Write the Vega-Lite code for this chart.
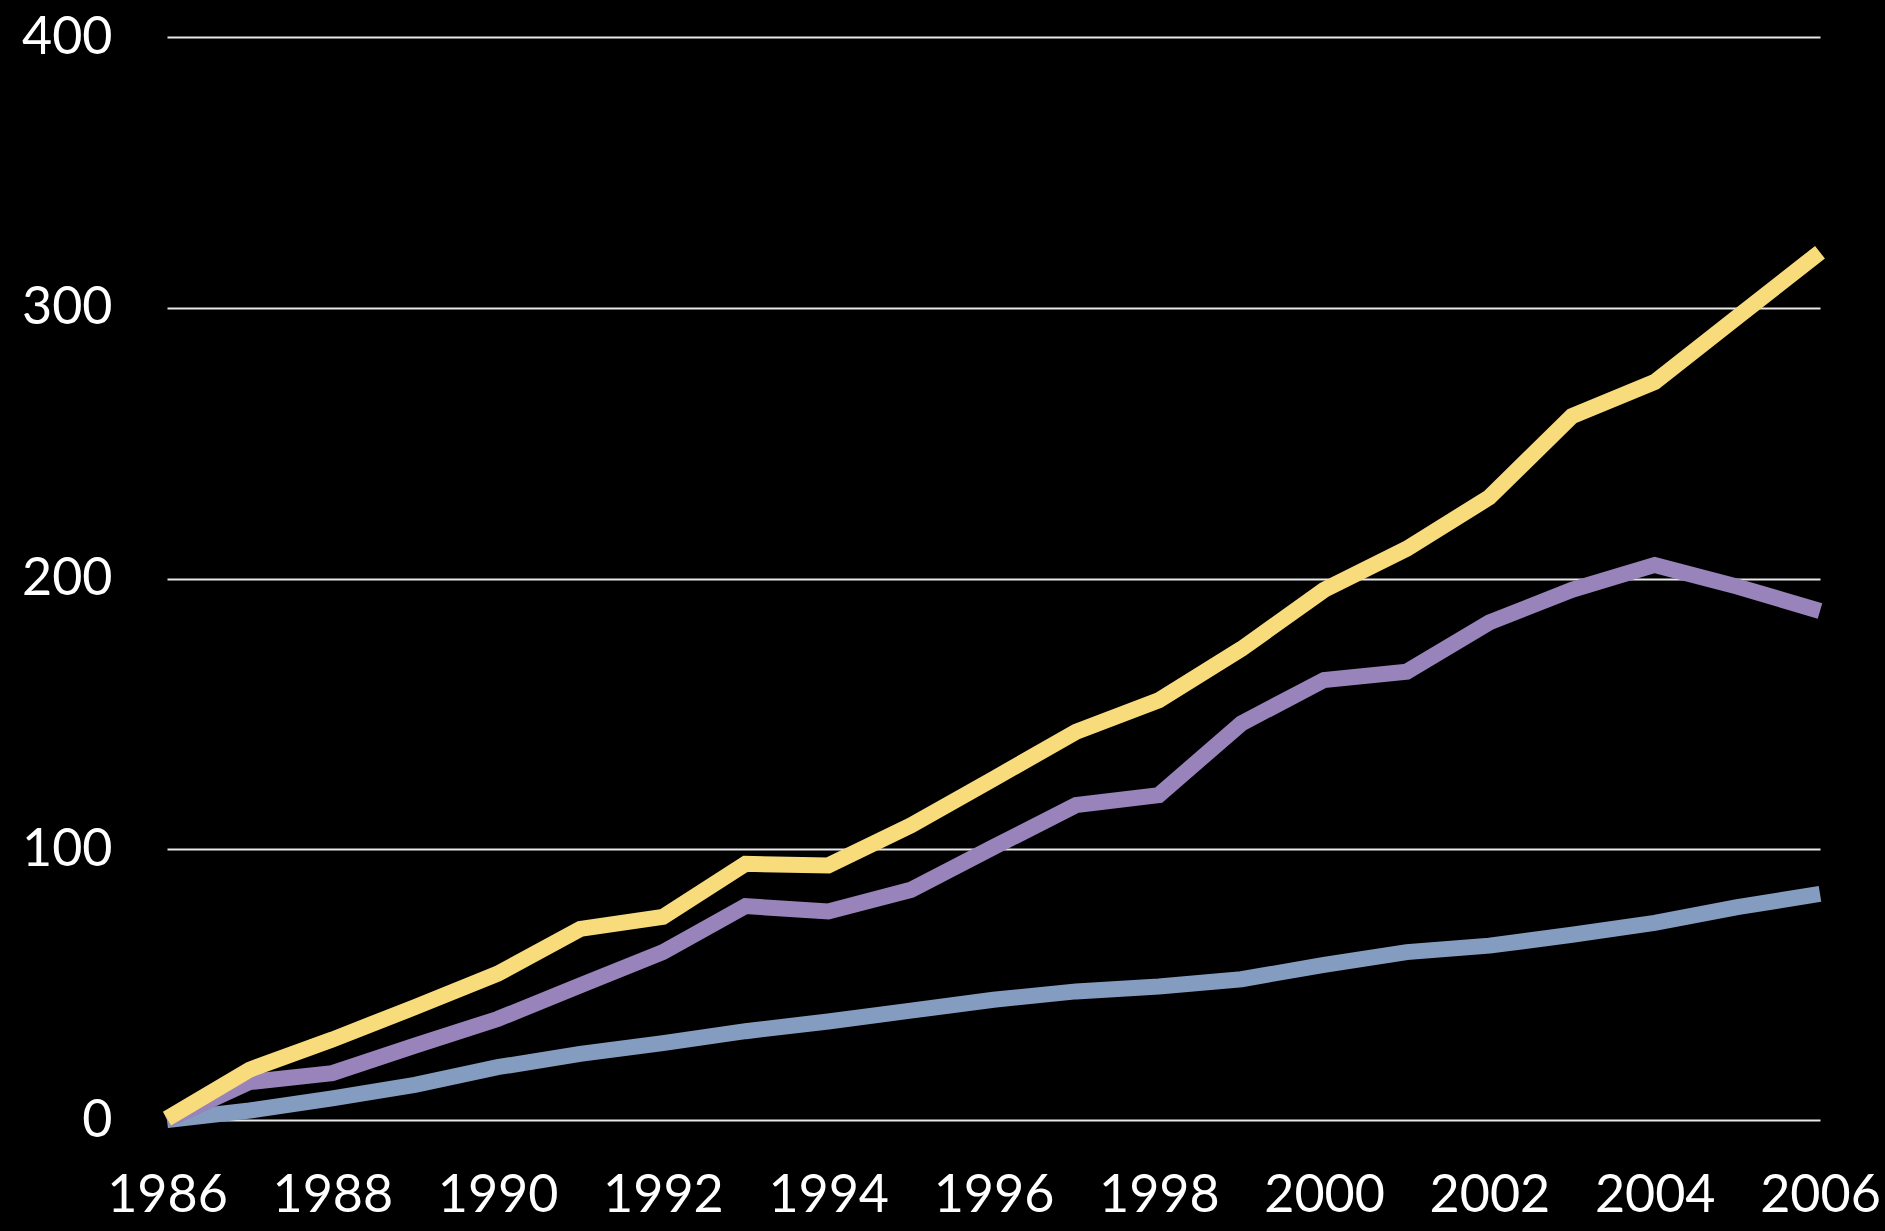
{
  "$schema": "https://vega.github.io/schema/vega-lite/v6.json",
  "width": 1653,
  "height": 1083,
  "autosize": {"type": "none"},
  "padding": {"left": 167, "top": 37, "right": 65, "bottom": 111},
  "background": "#000000",
  "config": {"view": {"stroke": null}},
  "data": {
    "values": [
      {"year": 1986, "series": "Series 1", "value": 0},
      {"year": 1987, "series": "Series 1", "value": 3.5},
      {"year": 1988, "series": "Series 1", "value": 8},
      {"year": 1989, "series": "Series 1", "value": 13},
      {"year": 1990, "series": "Series 1", "value": 19.5},
      {"year": 1991, "series": "Series 1", "value": 24.4},
      {"year": 1992, "series": "Series 1", "value": 28.4},
      {"year": 1993, "series": "Series 1", "value": 32.8},
      {"year": 1994, "series": "Series 1", "value": 36.4},
      {"year": 1995, "series": "Series 1", "value": 40.4},
      {"year": 1996, "series": "Series 1", "value": 44.4},
      {"year": 1997, "series": "Series 1", "value": 47.5},
      {"year": 1998, "series": "Series 1", "value": 49.3},
      {"year": 1999, "series": "Series 1", "value": 52},
      {"year": 2000, "series": "Series 1", "value": 57.3},
      {"year": 2001, "series": "Series 1", "value": 62},
      {"year": 2002, "series": "Series 1", "value": 64.4},
      {"year": 2003, "series": "Series 1", "value": 68.4},
      {"year": 2004, "series": "Series 1", "value": 72.8},
      {"year": 2005, "series": "Series 1", "value": 78.6},
      {"year": 2006, "series": "Series 1", "value": 83.5},
      {"year": 1986, "series": "Series 2", "value": 0},
      {"year": 1987, "series": "Series 2", "value": 14},
      {"year": 1988, "series": "Series 2", "value": 17.3},
      {"year": 1989, "series": "Series 2", "value": 27.5},
      {"year": 1990, "series": "Series 2", "value": 37.3},
      {"year": 1991, "series": "Series 2", "value": 49.7},
      {"year": 1992, "series": "Series 2", "value": 62},
      {"year": 1993, "series": "Series 2", "value": 79},
      {"year": 1994, "series": "Series 2", "value": 77},
      {"year": 1995, "series": "Series 2", "value": 85},
      {"year": 1996, "series": "Series 2", "value": 100.8},
      {"year": 1997, "series": "Series 2", "value": 116.3},
      {"year": 1998, "series": "Series 2", "value": 120},
      {"year": 1999, "series": "Series 2", "value": 146.5},
      {"year": 2000, "series": "Series 2", "value": 162.5},
      {"year": 2001, "series": "Series 2", "value": 165.6},
      {"year": 2002, "series": "Series 2", "value": 183.8},
      {"year": 2003, "series": "Series 2", "value": 195.8},
      {"year": 2004, "series": "Series 2", "value": 205},
      {"year": 2005, "series": "Series 2", "value": 197},
      {"year": 2006, "series": "Series 2", "value": 188},
      {"year": 1986, "series": "Series 3", "value": 0.5},
      {"year": 1987, "series": "Series 3", "value": 18.6},
      {"year": 1988, "series": "Series 3", "value": 29.7},
      {"year": 1989, "series": "Series 3", "value": 41.7},
      {"year": 1990, "series": "Series 3", "value": 54},
      {"year": 1991, "series": "Series 3", "value": 70.6},
      {"year": 1992, "series": "Series 3", "value": 75},
      {"year": 1993, "series": "Series 3", "value": 94.6},
      {"year": 1994, "series": "Series 3", "value": 94},
      {"year": 1995, "series": "Series 3", "value": 108.8},
      {"year": 1996, "series": "Series 3", "value": 126},
      {"year": 1997, "series": "Series 3", "value": 143.4},
      {"year": 1998, "series": "Series 3", "value": 155},
      {"year": 1999, "series": "Series 3", "value": 174},
      {"year": 2000, "series": "Series 3", "value": 195.8},
      {"year": 2001, "series": "Series 3", "value": 211},
      {"year": 2002, "series": "Series 3", "value": 230},
      {"year": 2003, "series": "Series 3", "value": 260},
      {"year": 2004, "series": "Series 3", "value": 272.6},
      {"year": 2005, "series": "Series 3", "value": 296.6},
      {"year": 2006, "series": "Series 3", "value": 320.5}
    ]
  },
  "mark": {"type": "line", "strokeWidth": 16, "strokeCap": "butt", "strokeJoin": "miter"},
  "encoding": {
    "x": {
      "field": "year",
      "type": "quantitative",
      "scale": {"domain": [1986, 2006], "nice": false, "zero": false},
      "axis": {
        "values": [1986, 1988, 1990, 1992, 1994, 1996, 1998, 2000, 2002, 2004, 2006],
        "format": "d",
        "title": null,
        "grid": false,
        "domain": false,
        "ticks": false,
        "labelFont": "Lato",
        "labelFontSize": 52,
        "labelColor": "#ffffff",
        "labelPadding": 50,
        "labelOverlap": false,
        "labelFlush": false
      }
    },
    "y": {
      "field": "value",
      "type": "quantitative",
      "scale": {"domain": [0, 400], "nice": false},
      "axis": {
        "values": [0, 100, 200, 300, 400],
        "title": null,
        "grid": true,
        "gridColor": "#e8e8e8",
        "gridWidth": 2,
        "gridOpacity": 1,
        "domain": false,
        "ticks": false,
        "labelFont": "Lato",
        "labelFontSize": 52,
        "labelColor": "#ffffff",
        "labelPadding": 55,
        "labelOverlap": false,
        "labelFlush": false
      }
    },
    "color": {
      "field": "series",
      "type": "nominal",
      "scale": {"domain": ["Series 1", "Series 2", "Series 3"], "range": ["#849cbf", "#9883bb", "#f8dc7b"]},
      "legend": null
    }
  }
}
